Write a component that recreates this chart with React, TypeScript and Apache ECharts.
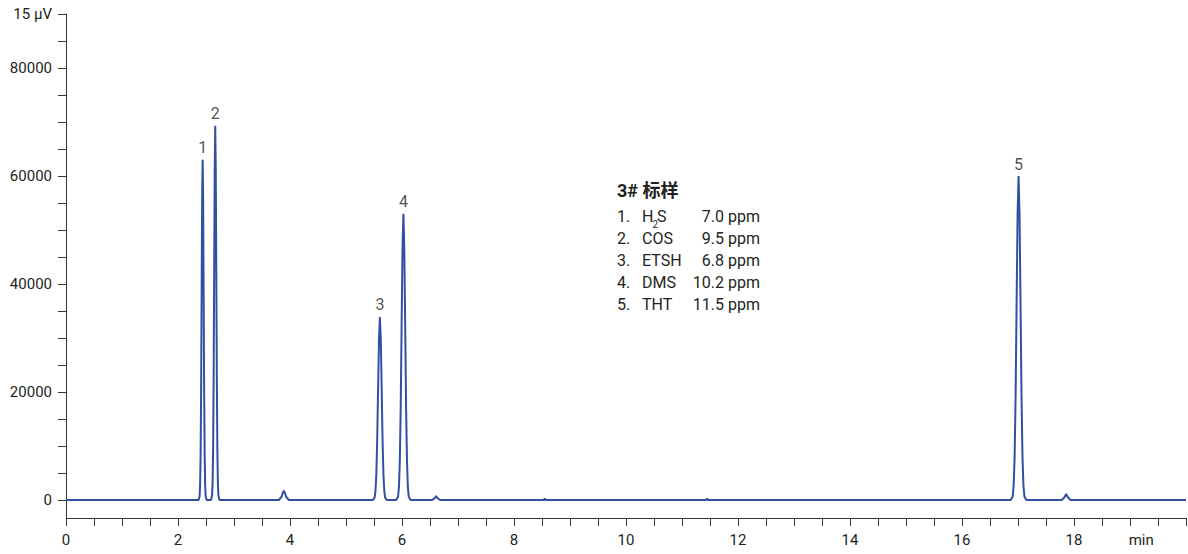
import { useEffect, useRef } from 'react';
import * as echarts from 'echarts';

// ---- chromatogram trace (time in min, signal) ----
const baselineStart: [number, number][] = [[0, 0], [2.3, 0]];
const peak1: [number, number][] = [
  [2.368, 0], [2.386, 700], [2.395, 2760], [2.404, 8500], [2.413, 20400], [2.422, 38200], [2.431, 55600],
  [2.44, 63000], [2.449, 55600], [2.458, 38200], [2.467, 20400], [2.476, 8500], [2.485, 2760], [2.494, 700], [2.512, 0],
];
const peak2: [number, number][] = [
  [2.589, 0], [2.608, 770], [2.6175, 3050], [2.627, 9360], [2.6365, 22500], [2.646, 42100], [2.6555, 61000],
  [2.665, 69300], [2.6745, 61000], [2.684, 42100], [2.6935, 22500], [2.703, 9360], [2.7125, 3050], [2.722, 770], [2.741, 0],
];
const bump1: [number, number][] = [[3.8, 0], [3.85, 600], [3.87, 1300], [3.89, 1700], [3.91, 1300], [3.93, 600], [3.98, 0]];
const peak3: [number, number][] = [
  [5.477, 0], [5.509, 370], [5.525, 1490], [5.541, 4580], [5.557, 11000], [5.573, 20600], [5.589, 29800],
  [5.605, 33900], [5.621, 29800], [5.637, 20600], [5.653, 11000], [5.669, 4580], [5.685, 1490], [5.701, 370], [5.733, 0],
];
const peak4: [number, number][] = [
  [5.897, 0], [5.929, 580], [5.945, 2330], [5.961, 7160], [5.977, 17200], [5.993, 32200], [6.009, 46600],
  [6.025, 53000], [6.041, 46600], [6.057, 32200], [6.073, 17200], [6.089, 7160], [6.105, 2330], [6.121, 580], [6.153, 0],
];
const bump2: [number, number][] = [[6.54, 0], [6.58, 300], [6.61, 700], [6.64, 300], [6.68, 0]];
const bump3: [number, number][] = [[8.53, 0], [8.55, 250], [8.57, 0]];
const bump4: [number, number][] = [[11.43, 0], [11.45, 250], [11.47, 0]];
const peak5: [number, number][] = [
  [16.87, 0], [16.905, 660], [16.9225, 2640], [16.94, 8100], [16.9575, 19500], [16.975, 36400], [16.9925, 52800],
  [17.01, 60000], [17.0275, 52800], [17.045, 36400], [17.0625, 19500], [17.08, 8100], [17.0975, 2640], [17.115, 660], [17.15, 0],
];
const bump5: [number, number][] = [[17.78, 0], [17.83, 500], [17.86, 1100], [17.89, 500], [17.94, 0]];
const baselineEnd: [number, number][] = [[20, 0]];

// ---- peak labels ----
const peakTimes = [2.44, 2.665, 5.605, 6.025, 17.01];
const peakHeights = [63000, 69300, 33900, 53000, 60000];
const peakNames = ['1', '2', '3', '4', '5'];

// ---- axes ----
const yTickValues = [0, 5000, 10000, 15000, 20000, 25000, 30000, 35000, 40000, 45000, 50000, 55000, 60000, 65000, 70000, 75000, 80000, 85000, 90000];
const yLabelValues = [0, 20000, 40000, 60000, 80000, 90000];
const yTopLabel = '15 µV';
const xTickValues = [0, 0.5, 1, 1.5, 2, 2.5, 3, 3.5, 4, 4.5, 5, 5.5, 6, 6.5, 7, 7.5, 8, 8.5, 9, 9.5, 10, 10.5, 11, 11.5, 12, 12.5, 13, 13.5, 14, 14.5, 15, 15.5, 16, 16.5, 17, 17.5, 18, 18.5, 19, 19.5, 20];
const xLabelValues = [0, 2, 4, 6, 8, 10, 12, 14, 16, 18, 19.2];
const xUnitLabel = 'min';

// ---- legend block ----
const legendTitle = '3# 标样';
const legendNums = ['1.', '2.', '3.', '4.', '5.'];
const legendNames = ['H2S', 'COS', 'ETSH', 'DMS', 'THT'];
const legendConc = ['7.0 ppm', '9.5 ppm', '6.8 ppm', '10.2 ppm', '11.5 ppm'];

const FONT = 'Roboto, "Liberation Sans", "Noto Sans CJK SC", sans-serif';
const TEXT = '#231f20';
const LINE = '#3150a4';

export default function App() {
  const ref = useRef<HTMLDivElement>(null);
  useEffect(() => {
    if (!ref.current) return;
    const chart = echarts.init(ref.current, undefined, { renderer: 'svg' });
    const trace = [
      ...baselineStart, ...peak1, ...peak2, ...bump1, ...peak3, ...peak4, ...bump2,
      ...bump3, ...bump4, ...peak5, ...bump5, ...baselineEnd,
    ];
    const rowY = [216.5, 238.5, 260.5, 282.5, 304.5];
    const txt = (x: number, y: number, text: string, size: number, align = 'left', bold = false) => ({
      type: 'text', x, y,
      style: {
        text, fill: TEXT, fontSize: size, fontWeight: bold ? 'bold' : 'normal', fontFamily: FONT,
        textAlign: align, textVerticalAlign: 'middle', align, verticalAlign: 'middle',
      },
    });
    const legendEls: any[] = [txt(617, 190.5, legendTitle, 18, 'left', true)];
    legendNums.forEach((n, i) => {
      legendEls.push(txt(617, rowY[i], n, 16));
      const name = legendNames[i];
      if (name === 'H2S') {
        legendEls.push(txt(642, rowY[i], 'H', 16));
        legendEls.push(txt(652.5, rowY[i] + 8, '2', 10));
        legendEls.push(txt(657, rowY[i], 'S', 16));
      } else {
        legendEls.push(txt(642, rowY[i], name, 16));
      }
      legendEls.push(txt(760, rowY[i], legendConc[i], 16, 'right'));
    });

    chart.setOption({
      animation: false,
      backgroundColor: '#ffffff',
      textStyle: { fontFamily: FONT },
      grid: { left: 66, right: 2, top: 14, bottom: 36, containLabel: false },
      xAxis: {
        type: 'value', min: 0, max: 20,
        axisLine: { show: true, onZero: false, lineStyle: { color: '#333', width: 1 } },
        axisTick: { show: true, inside: false, length: 8, customValues: xTickValues, lineStyle: { color: '#333' } },
        axisLabel: {
          show: true, margin: 14, fontSize: 15, color: TEXT, fontFamily: FONT, customValues: xLabelValues,
          showMinLabel: true, showMaxLabel: true,
          formatter: (v: number) => (Math.abs(v - 19.2) < 1e-6 ? xUnitLabel : String(v)),
        },
        splitLine: { show: false },
      },
      yAxis: {
        type: 'value', min: -3333.33, max: 90000,
        axisLine: { show: true, onZero: false, lineStyle: { color: '#333', width: 1 } },
        axisTick: { show: true, inside: false, length: 8, customValues: yTickValues, lineStyle: { color: '#333' } },
        axisLabel: {
          show: true, margin: 14, fontSize: 15, color: TEXT, fontFamily: FONT, customValues: yLabelValues,
          formatter: (v: number) => (v === 90000 ? yTopLabel : String(v)),
        },
        splitLine: { show: false },
      },
      graphic: legendEls,
      series: [
        {
          type: 'line', data: trace, showSymbol: false, symbol: 'none', smooth: false,
          lineStyle: { color: LINE, width: 2 }, z: 2,
        },
        {
          type: 'scatter', symbolSize: 0,
          data: peakTimes.map((t, i) => [t, peakHeights[i], peakNames[i]]),
          label: {
            show: true, position: 'top', distance: 4, fontSize: 16, color: TEXT, fontFamily: FONT,
            formatter: (p: any) => p.value[2],
          },
          z: 3,
        },
      ],
    });
    return () => chart.dispose();
  }, []);
  return <div ref={ref} style={{ position: 'fixed', left: 0, top: 0, width: 1188, height: 554 }} />;
}
